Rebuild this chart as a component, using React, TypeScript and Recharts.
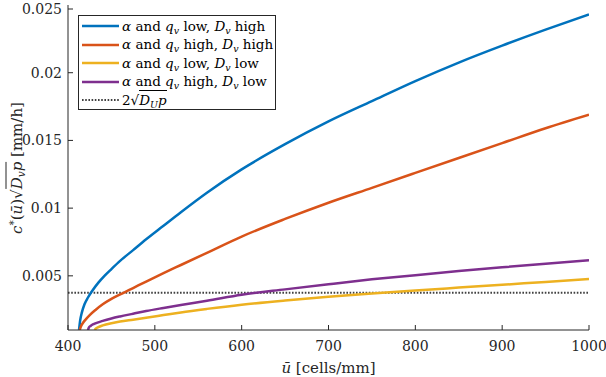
import React from "react";
import { LineChart, Line, XAxis, YAxis } from "recharts";

// wave speed c*(ū)·sqrt(D_v p) against mean cell density ū
const lowAlphaHighDvU = [412.7, 414, 416, 419, 423, 428, 435, 442, 450, 460, 475, 490, 510, 530, 560, 600, 650, 700, 750, 800, 850, 900, 950, 1000];
const lowAlphaHighDvC = [0.001, 0.0017, 0.0023, 0.0029, 0.0034, 0.0039, 0.0045, 0.005, 0.0055, 0.0061, 0.0069, 0.0077, 0.0087, 0.0097, 0.01114, 0.01286, 0.01472, 0.0164, 0.0179, 0.01938, 0.02075, 0.022, 0.02318, 0.0243];

const highAlphaHighDvU = [413.5, 415, 417, 420, 425, 432, 440, 450, 464, 475, 490, 510, 530, 560, 600, 650, 700, 750, 800, 850, 900, 950, 1000];
const highAlphaHighDvC = [0.001, 0.00128, 0.0015, 0.00175, 0.0021, 0.0025, 0.0029, 0.0033, 0.00375, 0.0041, 0.00458, 0.0052, 0.0058, 0.0067, 0.0079, 0.0092, 0.0104, 0.0115, 0.0126, 0.0137, 0.0148, 0.0159, 0.0169];

const lowAlphaLowDvU = [430.7, 432, 435, 440, 450, 460, 475, 490, 510, 530, 560, 600, 650, 700, 750, 800, 850, 900, 950, 1000];
const lowAlphaLowDvC = [0.001, 0.0011, 0.00122, 0.00134, 0.0015, 0.00162, 0.00176, 0.0019, 0.0021, 0.0023, 0.00256, 0.00287, 0.00318, 0.00345, 0.0037, 0.00392, 0.00413, 0.00434, 0.00455, 0.00476];

const highAlphaLowDvU = [423, 424, 426, 430, 440, 450, 460, 475, 490, 510, 530, 560, 600, 650, 700, 750, 800, 850, 900, 950, 1000];
const highAlphaLowDvC = [0.001, 0.00118, 0.0013, 0.00145, 0.00167, 0.00185, 0.002, 0.0022, 0.0024, 0.00263, 0.00285, 0.00316, 0.0036, 0.004, 0.00438, 0.00474, 0.00505, 0.00535, 0.00563, 0.0059, 0.00616];

// threshold 2*sqrt(D_U p), flat across the range
const thresholdU = [400, 1000];
const thresholdC = [0.00375, 0.00375];

const xTicks = [400, 500, 600, 700, 800, 900, 1000];
const yTicks = [0.005, 0.01, 0.015, 0.02, 0.025];

const zip = (u: number[], c: number[]) => u.map((x, i) => ({ u: x, c: c[i] }));

const AXIS = "#262626";
const FONT = '"DejaVu Serif", serif';
const TICK = 5;

const series = [
  { key: "a", color: "#0072BD", data: zip(lowAlphaHighDvU, lowAlphaHighDvC), qv: "low", dv: "high" },
  { key: "b", color: "#D95319", data: zip(highAlphaHighDvU, highAlphaHighDvC), qv: "high", dv: "high" },
  { key: "c", color: "#EDB120", data: zip(lowAlphaLowDvU, lowAlphaLowDvC), qv: "low", dv: "low" },
  { key: "d", color: "#7E2F8E", data: zip(highAlphaLowDvU, highAlphaLowDvC), qv: "high", dv: "low" },
];

const BottomTick = ({ x, y, payload }: any) => (
  <g>
    <line x1={x} x2={x} y1={y} y2={y - TICK} stroke={AXIS} />
    <text x={x} y={y + 21} textAnchor="middle" fill={AXIS} fontFamily={FONT} fontSize={14}>
      {payload.value}
    </text>
  </g>
);

const TopTick = ({ x, y }: any) => <line x1={x} x2={x} y1={y} y2={y + TICK} stroke={AXIS} />;

const LeftTick = ({ x, y, payload }: any) => (
  <g>
    <line x1={x} x2={x + TICK} y1={y} y2={y} stroke={AXIS} />
    <text x={x - 6} y={y + 5} textAnchor="end" fill={AXIS} fontFamily={FONT} fontSize={14}>
      {payload.value}
    </text>
  </g>
);

const RightTick = ({ x, y }: any) => <line x1={x} x2={x - TICK} y1={y} y2={y} stroke={AXIS} />;

const sub = { fontSize: "0.7em", verticalAlign: "-0.3em", lineHeight: 0 } as const;
const sup = { fontSize: "0.7em", verticalAlign: "0.45em", lineHeight: 0 } as const;

export default function App() {
  return (
    <div style={{ position: "absolute", left: 0, top: 0, width: 606, height: 377, background: "#fff" }}>
      <LineChart width={606} height={377} margin={{ top: 5, right: 17, bottom: 0, left: 0 }}>
        <XAxis
          xAxisId="bottom"
          dataKey="u"
          type="number"
          domain={[400, 1000]}
          ticks={xTicks}
          allowDataOverflow
          height={47}
          tickSize={0}
          tickMargin={0}
          tickLine={false}
          tick={<BottomTick />}
          axisLine={{ stroke: AXIS }}
        />
        <XAxis
          xAxisId="top"
          orientation="top"
          dataKey="u"
          type="number"
          domain={[400, 1000]}
          ticks={xTicks}
          allowDataOverflow
          height={0}
          tickSize={0}
          tickMargin={0}
          tickLine={false}
          tick={<TopTick />}
          axisLine={{ stroke: AXIS }}
        />
        <YAxis
          yAxisId="left"
          type="number"
          domain={[0.001, 0.025]}
          ticks={yTicks}
          allowDataOverflow
          width={68}
          tickSize={0}
          tickMargin={0}
          tickLine={false}
          tick={<LeftTick />}
          axisLine={{ stroke: AXIS }}
        />
        <YAxis
          yAxisId="right"
          orientation="right"
          type="number"
          domain={[0.001, 0.025]}
          ticks={yTicks}
          allowDataOverflow
          width={0}
          tickSize={0}
          tickMargin={0}
          tickLine={false}
          tick={<RightTick />}
          axisLine={{ stroke: AXIS }}
        />
        <Line
          xAxisId="bottom"
          yAxisId="left"
          data={zip(thresholdU, thresholdC)}
          dataKey="c"
          stroke="#404040"
          strokeWidth={1.8}
          strokeDasharray="1.6 1.6"
          dot={false}
          isAnimationActive={false}
        />
        {series.map((s) => (
          <Line
            key={s.key}
            xAxisId="bottom"
            yAxisId="left"
            data={s.data}
            dataKey="c"
            type="monotone"
            stroke={s.color}
            strokeWidth={2.5}
            dot={false}
            isAnimationActive={false}
          />
        ))}
      </LineChart>

      {/* legend */}
      <div
        style={{
          position: "absolute",
          left: 78,
          top: 15,
          width: 198,
          height: 95,
          boxSizing: "border-box",
          border: `1px solid ${AXIS}`,
          background: "#fff",
          paddingTop: 1,
          fontFamily: FONT,
          fontSize: 13.5,
          color: "#000",
        }}
      >
        {series.map((s) => (
          <div key={s.key} style={{ display: "flex", alignItems: "center", height: 18.5, whiteSpace: "nowrap" }}>
            <svg width={42} height={6} style={{ flex: "none" }}>
              <line x1={3} x2={40} y1={3} y2={3} stroke={s.color} strokeWidth={2.5} />
            </svg>
            <span style={{ marginLeft: 1, lineHeight: 1 }}>
              <i>α</i> and <i>q</i>
              <i style={sub}>v</i> {s.qv}, <i>D</i>
              <i style={sub}>v</i> {s.dv}
            </span>
          </div>
        ))}
        <div style={{ display: "flex", alignItems: "center", height: 18.5, whiteSpace: "nowrap" }}>
          <svg width={42} height={6} style={{ flex: "none" }}>
            <line x1={3} x2={40} y1={3} y2={3} stroke="#404040" strokeWidth={1.8} strokeDasharray="1.6 1.6" />
          </svg>
          <span style={{ marginLeft: 1, lineHeight: 1 }}>
            2√
            <span style={{ borderTop: "1px solid #000", paddingTop: 1 }}>
              <i>D</i>
              <i style={sub}>U</i>
              <i>p</i>
            </span>
          </span>
        </div>
      </div>

      {/* y label */}
      <div
        style={{
          position: "absolute",
          left: 17,
          top: 167.5,
          transform: "translate(-50%, -50%) rotate(-90deg)",
          whiteSpace: "nowrap",
          fontFamily: FONT,
          fontSize: 15,
          color: AXIS,
          lineHeight: 1,
        }}
      >
        <i>c</i>
        <span style={sup}>*</span>(<i>ū</i>)√
        <span style={{ borderTop: `1px solid ${AXIS}`, paddingTop: 1 }}>
          <i>D</i>
          <i style={sub}>v</i>
          <i>p</i>
        </span>{" "}
        [mm/h]
      </div>

      {/* x label */}
      <div
        style={{
          position: "absolute",
          left: 328.5,
          top: 368,
          transform: "translate(-50%, -50%)",
          whiteSpace: "nowrap",
          fontFamily: FONT,
          fontSize: 15,
          color: AXIS,
          lineHeight: 1,
        }}
      >
        <i>ū</i> [cells/mm]
      </div>
    </div>
  );
}
